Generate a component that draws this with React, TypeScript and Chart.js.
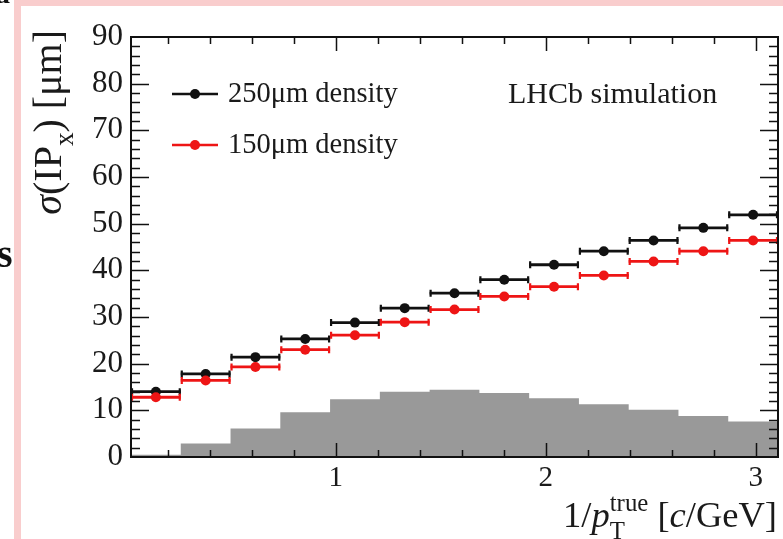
import React, { useEffect, useRef } from 'react';
import { Chart, registerables } from 'chart.js';

Chart.register(...registerables);

// ---- data ----
const binCenters = [0.1435, 0.3805, 0.6175, 0.8545, 1.0915, 1.3285, 1.5655, 1.8025, 2.0395, 2.2765, 2.5135, 2.7505, 2.9875];
const binHalfWidth = 0.1185;
const density250 = [14.0, 17.8, 21.4, 25.3, 28.8, 31.9, 35.1, 38.0, 41.2, 44.1, 46.4, 49.1, 51.9];
const density150 = [12.8, 16.4, 19.3, 23.0, 26.1, 28.9, 31.6, 34.4, 36.5, 38.9, 41.9, 44.1, 46.4];
const ptDistribution = [0.5, 2.9, 6.1, 9.6, 12.4, 14.0, 14.4, 13.7, 12.6, 11.3, 10.1, 8.8, 7.6];
const xTickValues = [1, 2, 3];
const yTickValues = [0, 10, 20, 30, 40, 50, 60, 70, 80, 90];
const seriesLabels = ['250\u03bcm density', '150\u03bcm density'];
const seriesColors = ['#111111', '#ee1515'];
const annotationText = 'LHCb simulation';

const X_MIN = 0.025;
const X_MAX = 3.106;
const Y_MIN = 0;
const Y_MAX = 90;

const SERIF = '"Liberation Serif", "DejaVu Serif", serif';
const TEXT_COLOR = '#1a1a1a';

type Seg = { t: string; italic?: boolean; scale?: number; dy?: number; group?: number };

function richWidth(ctx: CanvasRenderingContext2D, segs: Seg[], size: number) {
  let w = 0;
  let i = 0;
  while (i < segs.length) {
    const s = segs[i];
    if (s.group !== undefined) {
      let m = 0;
      while (i < segs.length && segs[i].group === s.group) {
        const g = segs[i];
        ctx.font = `${g.italic ? 'italic ' : ''}${size * (g.scale || 1)}px ${SERIF}`;
        m = Math.max(m, ctx.measureText(g.t).width);
        i++;
      }
      w += m;
    } else {
      ctx.font = `${s.italic ? 'italic ' : ''}${size * (s.scale || 1)}px ${SERIF}`;
      w += ctx.measureText(s.t).width;
      i++;
    }
  }
  return w;
}

function drawRich(ctx: CanvasRenderingContext2D, segs: Seg[], size: number, x0: number, y0: number) {
  let x = x0;
  let i = 0;
  ctx.textBaseline = 'alphabetic';
  ctx.textAlign = 'left';
  while (i < segs.length) {
    const s = segs[i];
    if (s.group !== undefined) {
      let m = 0;
      while (i < segs.length && segs[i].group === s.group) {
        const g = segs[i];
        ctx.font = `${g.italic ? 'italic ' : ''}${size * (g.scale || 1)}px ${SERIF}`;
        ctx.fillText(g.t, x, y0 + (g.dy || 0) * size);
        m = Math.max(m, ctx.measureText(g.t).width);
        i++;
      }
      x += m;
    } else {
      ctx.font = `${s.italic ? 'italic ' : ''}${size * (s.scale || 1)}px ${SERIF}`;
      ctx.fillText(s.t, x, y0 + (s.dy || 0) * size);
      x += ctx.measureText(s.t).width;
      i++;
    }
  }
}

const errorBarPlugin = {
  id: 'errorBars',
  beforeDatasetDraw(chart: any, args: any) {
    const ds = chart.data.datasets[args.index];
    if (!ds.xErr) return;
    const { ctx, scales } = chart;
    const x = scales.x;
    const y = scales.y;
    ctx.save();
    ctx.strokeStyle = ds.borderColor;
    ds.data.forEach((p: any) => {
      const xl = x.getPixelForValue(p.x - ds.xErr);
      const xr = x.getPixelForValue(p.x + ds.xErr);
      const py = y.getPixelForValue(p.y);
      ctx.lineWidth = 2.8;
      ctx.beginPath();
      ctx.moveTo(xl, py);
      ctx.lineTo(xr, py);
      ctx.stroke();
      ctx.lineWidth = 2.2;
      ctx.beginPath();
      ctx.moveTo(xl + 1, py - 3.5);
      ctx.lineTo(xl + 1, py + 3.5);
      ctx.moveTo(xr - 1, py - 3.5);
      ctx.lineTo(xr - 1, py + 3.5);
      ctx.stroke();
    });
    ctx.restore();
  },
};

const framePlugin = {
  id: 'frameTicks',
  afterDatasetsDraw(chart: any) {
    const { ctx, chartArea: a, scales } = chart;
    const x = scales.x;
    const y = scales.y;
    ctx.save();
    ctx.strokeStyle = '#111';
    ctx.lineWidth = 1.5;
    ctx.beginPath();
    for (let i = 1; i * 0.2 < X_MAX; i++) {
      const v = i * 0.2;
      const major = i % 5 === 0;
      const len = major ? 14 : 7;
      const px = Math.round(x.getPixelForValue(v)) + 0.5;
      ctx.moveTo(px, a.bottom);
      ctx.lineTo(px, a.bottom - len);
      ctx.moveTo(px, a.top);
      ctx.lineTo(px, a.top + len);
    }
    for (let i = 1; i * 2 < Y_MAX; i++) {
      const v = i * 2;
      const major = i % 5 === 0;
      const len = major ? 18 : 9;
      const py = Math.round(y.getPixelForValue(v)) + 0.5;
      ctx.moveTo(a.left, py);
      ctx.lineTo(a.left + len, py);
      ctx.moveTo(a.right, py);
      ctx.lineTo(a.right - len, py);
    }
    ctx.stroke();
    ctx.lineWidth = 2;
    ctx.strokeRect(a.left, a.top, a.right - a.left, a.bottom - a.top);
    ctx.restore();
  },
  afterDraw(chart: any) {
    const { ctx, chartArea: a } = chart;
    ctx.save();
    ctx.fillStyle = TEXT_COLOR;

    // legend
    seriesLabels.forEach((label, k) => {
      const cy = a.top + 57 + k * 51;
      const lx = a.left + 41;
      ctx.strokeStyle = seriesColors[k];
      ctx.lineWidth = 2.5;
      ctx.beginPath();
      ctx.moveTo(lx, cy);
      ctx.lineTo(lx + 46, cy);
      ctx.stroke();
      ctx.fillStyle = seriesColors[k];
      ctx.beginPath();
      ctx.arc(lx + 23, cy, 5, 0, Math.PI * 2);
      ctx.fill();
      ctx.fillStyle = TEXT_COLOR;
      ctx.font = `28.5px ${SERIF}`;
      ctx.textBaseline = 'middle';
      ctx.textAlign = 'left';
      ctx.fillText(label, lx + 56, cy + 1);
    });

    // annotation
    ctx.font = `30px ${SERIF}`;
    ctx.textBaseline = 'middle';
    ctx.textAlign = 'left';
    ctx.fillText(annotationText, a.left + 377, a.top + 58);

    // x-axis title
    const xSegs: Seg[] = [
      { t: '1/' },
      { t: 'p', italic: true },
      { t: 'T', scale: 0.68, dy: 0.32, group: 1 },
      { t: 'true', scale: 0.68, dy: -0.45, group: 1 },
      { t: ' [' },
      { t: 'c', italic: true },
      { t: '/GeV]' },
    ];
    const xs = 36.5;
    const xw = richWidth(ctx, xSegs, xs);
    drawRich(ctx, xSegs, xs, a.right - 1 - xw, 527);

    // y-axis title (rotated)
    const ySegs: Seg[] = [
      { t: '\u03c3', italic: true },
      { t: '(IP' },
      { t: 'x', scale: 0.68, dy: 0.3 },
      { t: ') [\u03bcm]' },
    ];
    const ys = 40;
    const yw = richWidth(ctx, ySegs, ys);
    ctx.translate(61, a.top - 7 + yw);
    ctx.rotate(-Math.PI / 2);
    drawRich(ctx, ySegs, ys, 0, 0);
    ctx.restore();
  },
};

function buildHistogramPoints() {
  const pts = binCenters.map((c, i) => ({ x: c - binHalfWidth, y: ptDistribution[i] }));
  const last = binCenters.length - 1;
  pts.push({ x: binCenters[last] + binHalfWidth, y: ptDistribution[last] });
  return pts;
}

export default function App() {
  const canvasRef = useRef<HTMLCanvasElement | null>(null);

  useEffect(() => {
    const canvas = canvasRef.current;
    if (!canvas) return;
    const chart = new Chart(canvas, {
      type: 'scatter',
      data: {
        datasets: [
          {
            label: seriesLabels[1],
            data: binCenters.map((c, i) => ({ x: c, y: density150[i] })),
            borderColor: seriesColors[1],
            backgroundColor: seriesColors[1],
            pointRadius: 5,
            pointBorderWidth: 0,
            showLine: false,
            order: 1,
            xErr: binHalfWidth,
          } as any,
          {
            label: seriesLabels[0],
            data: binCenters.map((c, i) => ({ x: c, y: density250[i] })),
            borderColor: seriesColors[0],
            backgroundColor: seriesColors[0],
            pointRadius: 5,
            pointBorderWidth: 0,
            showLine: false,
            order: 2,
            xErr: binHalfWidth,
          } as any,
          {
            type: 'line',
            label: 'pT distribution',
            data: buildHistogramPoints(),
            stepped: 'before',
            fill: 'origin',
            backgroundColor: '#999999',
            borderWidth: 0,
            borderColor: 'rgba(0,0,0,0)',
            pointRadius: 0,
            order: 3,
          } as any,
        ],
      },
      options: {
        animation: false,
        responsive: false,
        maintainAspectRatio: false,
        events: [],
        layout: { padding: { left: 0, right: 2, top: 37, bottom: 0 } },
        plugins: {
          legend: { display: false },
          tooltip: { enabled: false },
        },
        scales: {
          x: {
            type: 'linear',
            min: X_MIN,
            max: X_MAX,
            grid: { display: false, drawTicks: false },
            border: { display: false },
            afterBuildTicks: (scale: any) => {
              scale.ticks = xTickValues.map((v) => ({ value: v }));
            },
            afterFit: (scale: any) => {
              scale.height = 82;
            },
            ticks: {
              padding: 4,
              color: TEXT_COLOR,
              maxRotation: 0,
              autoSkip: false,
              font: { family: SERIF, size: 29 },
              callback: (v: any) => String(v),
            },
          },
          y: {
            type: 'linear',
            min: Y_MIN,
            max: Y_MAX,
            grid: { display: false, drawTicks: false },
            border: { display: false },
            afterBuildTicks: (scale: any) => {
              scale.ticks = yTickValues.map((v) => ({ value: v }));
            },
            afterFit: (scale: any) => {
              scale.width = 131;
            },
            ticks: {
              padding: 8,
              color: TEXT_COLOR,
              autoSkip: false,
              font: { family: SERIF, size: 31 },
              callback: (v: any) => String(v),
            },
          },
        },
      },
      plugins: [errorBarPlugin, framePlugin],
    });
    return () => chart.destroy();
  }, []);

  return (
    <div
      style={{
        position: 'fixed',
        left: 0,
        top: 0,
        width: 783,
        height: 539,
        background: '#ffffff',
        overflow: 'hidden',
      }}
    >
      <canvas ref={canvasRef} width={783} height={539} style={{ position: 'absolute', left: 0, top: 0 }} />
      <div style={{ position: 'absolute', left: 15, top: 0, width: 768, height: 6, background: '#f9cdcd' }} />
      <div style={{ position: 'absolute', left: 14, top: 0, width: 7, height: 539, background: '#f9cdcd' }} />
      <span
        style={{
          position: 'absolute',
          left: -5,
          top: -22,
          fontFamily: SERIF,
          fontSize: 30,
          fontWeight: 'bold',
          color: '#111',
          lineHeight: '30px',
        }}
      >
        a
      </span>
      <span
        style={{
          position: 'absolute',
          left: -3,
          top: 234,
          fontFamily: SERIF,
          fontSize: 40,
          fontWeight: 'bold',
          color: '#111',
          lineHeight: '40px',
        }}
      >
        s
      </span>
    </div>
  );
}
